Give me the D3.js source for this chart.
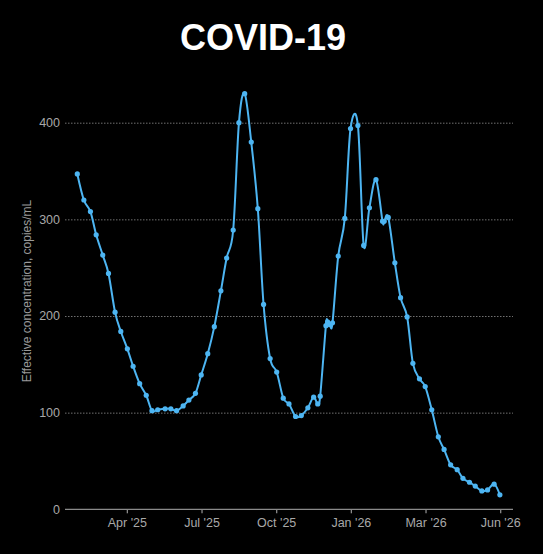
<!DOCTYPE html>
<html>
<head>
<meta charset="utf-8">
<script src="https://cdn.jsdelivr.net/npm/d3@7"></script>
<style>
  html, body { margin: 0; padding: 0; background: #000; }
  svg { display: block; font-family: "Liberation Sans", Arial, Helvetica, sans-serif; }
  .title { fill: #fff; font-size: 36px; font-weight: bold; }
  .tick-label { fill: #a8a8a8; font-size: 12.5px; }
  .axis-title { fill: #9a9a9a; font-size: 12px; }
  .grid { stroke: #707070; stroke-width: 1; stroke-dasharray: 1.5,1.5; }
  .baseline { stroke: #8a8a8a; stroke-width: 1.3; }
</style>
</head>
<body>
<script>
// sample dates and concentrations (copies/mL)
const dates = [
  "2025-01-30", "2025-02-07", "2025-02-15", "2025-02-22", "2025-03-02", "2025-03-09",
  "2025-03-17", "2025-03-24", "2025-04-01", "2025-04-08", "2025-04-16", "2025-04-24",
  "2025-05-01", "2025-05-08", "2025-05-17", "2025-05-24", "2025-05-31", "2025-06-08",
  "2025-06-15", "2025-06-23", "2025-06-30", "2025-07-08", "2025-07-16", "2025-07-24",
  "2025-07-31", "2025-08-08", "2025-08-15", "2025-08-22", "2025-08-30", "2025-09-07",
  "2025-09-14", "2025-09-22", "2025-09-30", "2025-10-08", "2025-10-15", "2025-10-23",
  "2025-10-30", "2025-11-07", "2025-11-14", "2025-11-19", "2025-11-22", "2025-11-29",
  "2025-12-01", "2025-12-04", "2025-12-07", "2025-12-14", "2025-12-22", "2025-12-29",
  "2026-01-07", "2026-01-14", "2026-01-21", "2026-01-29", "2026-02-06", "2026-02-08",
  "2026-02-13", "2026-02-21", "2026-02-28", "2026-03-08", "2026-03-15", "2026-03-23",
  "2026-03-30", "2026-04-07", "2026-04-15", "2026-04-22", "2026-04-30", "2026-05-08",
  "2026-05-15", "2026-05-23", "2026-05-30", "2026-06-07", "2026-06-14", "2026-06-22",
  "2026-06-29"
];
const values = [
  347, 320, 308, 284, 263, 244,
  204, 184, 166, 148, 130, 118,
  102, 103, 104, 104, 102, 107,
  113, 120, 139, 161, 189, 226,
  260, 289, 400, 430, 380, 311,
  212, 156, 142, 115, 109, 96,
  97, 105, 116, 109, 117, 190,
  194, 191, 193, 262, 301, 394,
  397, 273, 312, 341, 298, 298,
  302, 255, 219, 199, 151, 135,
  127, 103, 75, 62, 46, 41,
  32, 28, 24, 19, 20, 26,
  15
];

const yTicks = [0, 100, 200, 300, 400];
const xTickDates = ["2025-04-01", "2025-07-01", "2025-09-30", "2025-12-30", "2026-03-31", "2026-06-30"];
const xTickLabels = ["Apr '25", "Jul '25", "Oct '25", "Jan '26", "Mar '26", "Jun '26"];

const width = 543;
const height = 554;
const parse = d3.utcParse("%Y-%m-%d");

const data = dates.map(function (d, i) {
    return { date: parse(d), value: values[i] };
});

const svg = d3.select("body")
    .append("svg")
    .attr("width", width)
    .attr("height", height);

svg.append("rect")
    .attr("width", width)
    .attr("height", height)
    .attr("fill", "#000");

// scales
const x = d3.scaleTime()
    .domain([parse("2025-01-15"), parse("2026-07-15")])
    .range([65, 513]);

const y = d3.scaleLinear()
    .domain([0, 400])
    .range([509.3, 122.7]);

// title
svg.append("text")
    .attr("class", "title")
    .attr("x", 263)
    .attr("y", 50)
    .attr("text-anchor", "middle")
    .text("COVID-19");

// horizontal grid
svg.selectAll(".grid")
    .data(yTicks.filter(function (t) { return t > 0; }))
    .enter()
    .append("line")
    .attr("class", "grid")
    .attr("x1", 65)
    .attr("x2", 513)
    .attr("y1", function (d) { return y(d) + 0.5; })
    .attr("y2", function (d) { return y(d) + 0.5; });

// y tick labels
svg.selectAll(".ylab")
    .data(yTicks)
    .enter()
    .append("text")
    .attr("class", "tick-label")
    .attr("x", 60)
    .attr("y", function (d) { return y(d); })
    .attr("dy", "0.35em")
    .attr("text-anchor", "end")
    .text(function (d) { return d; });

// y axis title
svg.append("text")
    .attr("class", "axis-title")
    .attr("transform", "translate(31,291) rotate(-90)")
    .attr("text-anchor", "middle")
    .text("Effective concentration, copies/mL");

// x axis
svg.append("line")
    .attr("class", "baseline")
    .attr("x1", 65)
    .attr("x2", 513)
    .attr("y1", y(0))
    .attr("y2", y(0));

const xt = svg.selectAll(".xtick")
    .data(xTickDates)
    .enter()
    .append("g")
    .attr("transform", function (d) { return "translate(" + x(parse(d)) + "," + y(0) + ")"; });

xt.append("line")
    .attr("class", "baseline")
    .attr("y1", 0)
    .attr("y2", 4);

xt.append("text")
    .attr("class", "tick-label")
    .attr("y", 18)
    .attr("text-anchor", "middle")
    .text(function (d, i) { return xTickLabels[i]; });

// line
const lineColor = "#4db5f2";

const line = d3.line()
    .x(function (d) { return x(d.date); })
    .y(function (d) { return y(d.value); })
    .curve(d3.curveCardinal.tension(0));

svg.append("path")
    .datum(data)
    .attr("fill", "none")
    .attr("stroke", lineColor)
    .attr("stroke-width", 2)
    .attr("stroke-linejoin", "round")
    .attr("d", line);

svg.selectAll(".pt")
    .data(data)
    .enter()
    .append("circle")
    .attr("cx", function (d) { return x(d.date); })
    .attr("cy", function (d) { return y(d.value); })
    .attr("r", 2.6)
    .attr("fill", lineColor);
</script>
</body>
</html>
